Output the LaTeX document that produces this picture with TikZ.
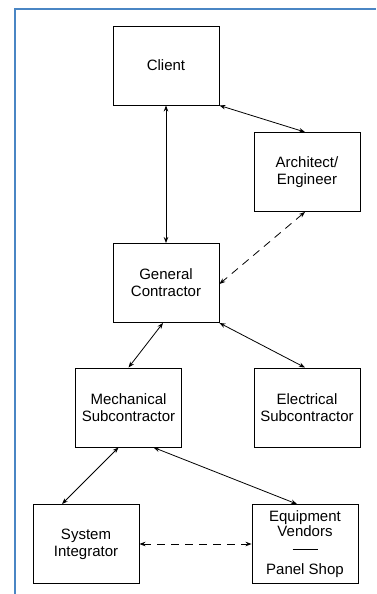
\documentclass[tikz,border=0pt]{standalone}
\usepackage{fontspec}
\setmainfont{Liberation Sans}
\usetikzlibrary{arrows.meta}
\definecolor{framecol}{RGB}{74,134,196}
\begin{document}
\begin{tikzpicture}[x=1pt,y=-1pt,
  box/.style={draw,line width=0.9pt,minimum width=106pt,minimum height=79pt,inner sep=0pt,align=center,font=\fontsize{15pt}{17pt}\selectfont},
  link/.style={line width=0.8pt,{Stealth[length=6pt,width=4.5pt]}-{Stealth[length=6pt,width=4.5pt]}},
  dlink/.style={link,dash pattern=on 8pt off 6pt}]
\useasboundingbox (0,0) rectangle (376,594);
\draw[framecol,line width=1.5pt] (15,594) -- (15,9) -- (376,9);
\node[box] (client) at (166,65.5) {Client};
\node[box] (arch) at (307,172) {Architect/\\Engineer};
\node[box] (gc) at (166,283) {General\\Contractor};
\node[box] (mech) at (128.5,407.5) {Mechanical\\Subcontractor};
\node[box] (elec) at (307,407.5) {Electrical\\Subcontractor};
\node[box] (si) at (86,544) {System\\Integrator};
\node[box,font=\fontsize{15pt}{15pt}\selectfont] (eq) at (305,544) {Equipment\\Vendors\\\rule[2pt]{25pt}{0.8pt}\\[8pt]Panel Shop};
\draw[link] (client.south) -- (gc.north);
\draw[link] (client.south east) -- ([xshift=-2pt]arch.north);
\draw[dlink] ([xshift=-2pt]arch.south) -- ([yshift=-1pt]gc.east);
\draw[link] ([xshift=-3pt]gc.south) -- (mech.north);
\draw[link] (gc.south east) -- ([xshift=-2pt]elec.north);
\draw[link] ([xshift=-10pt]mech.south) -- ([xshift=-24pt]si.north);
\draw[link] ([xshift=25pt]mech.south) -- ([xshift=-8pt]eq.north);
\draw[dlink] (si.east) -- (eq.west);
\end{tikzpicture}
\end{document}
